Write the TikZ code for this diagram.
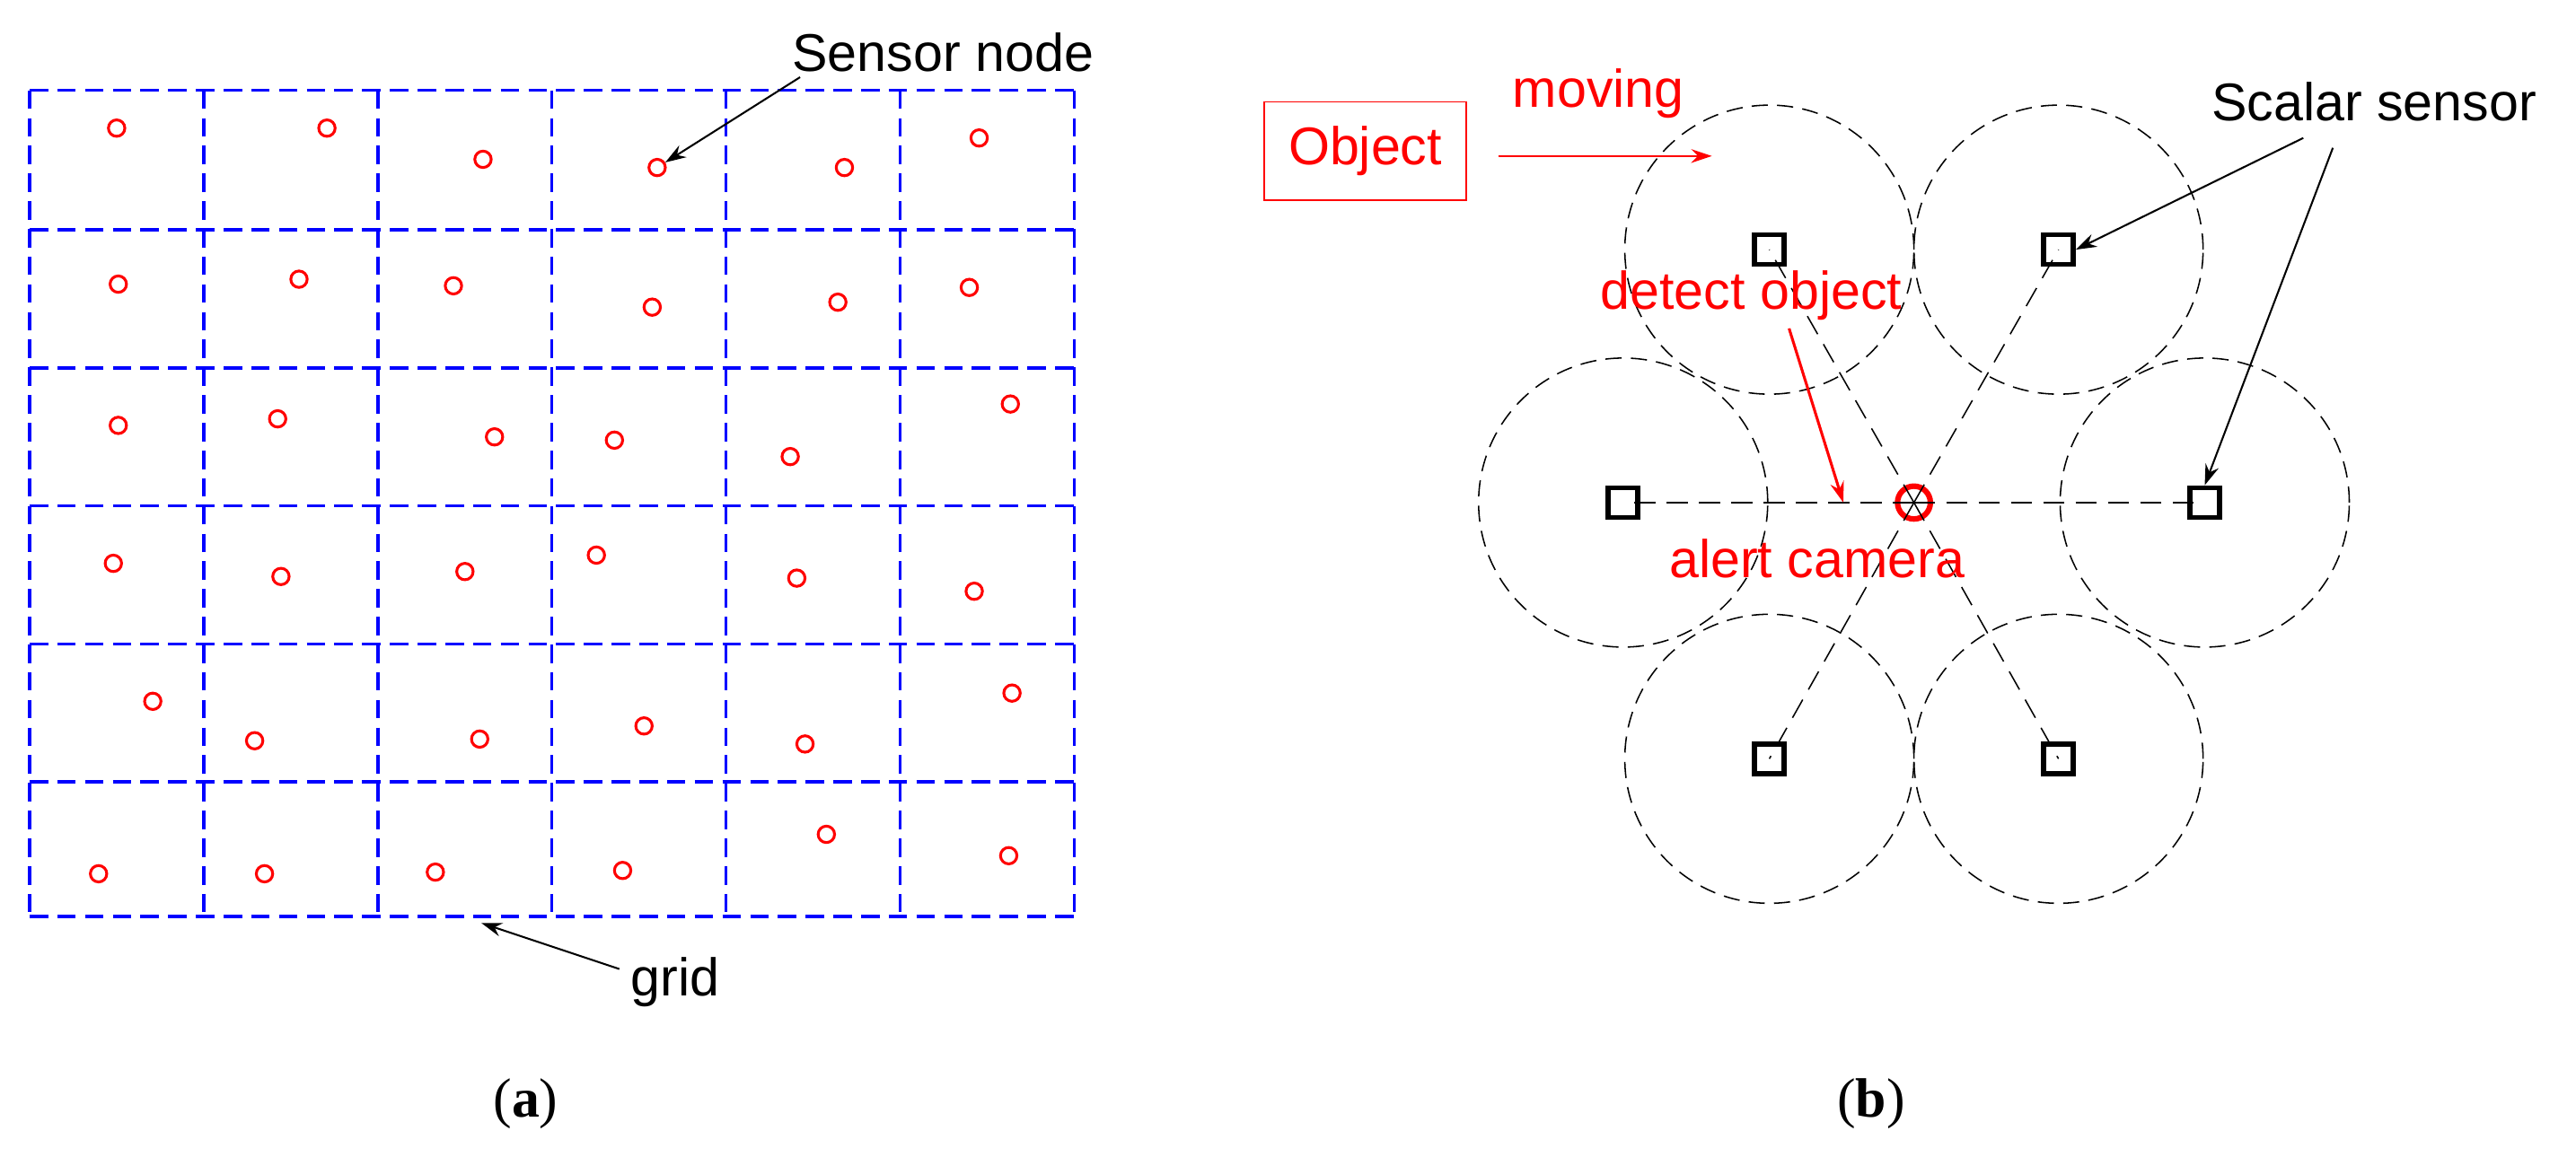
\documentclass[tikz,border=0pt]{standalone}
\usepackage{fontspec}
\usetikzlibrary{arrows.meta}
\setmainfont{Liberation Sans}
\newfontfamily\capfont{Liberation Serif}
\begin{document}
\begin{tikzpicture}[x=0.25mm,y=-0.25mm,
  lab/.style={font=\fontsize{23}{26}\selectfont, inner sep=0pt},
  sn/.style={circle,draw=red,line width=1.2pt,minimum size=10*0.25mm,inner sep=0pt},
  sq/.style={rectangle,draw=black,line width=2.2pt,minimum size=18*0.25mm,inner sep=0pt},
  rng/.style={circle,draw=black,dash pattern=on 7pt off 4pt,line width=0.6pt,minimum size=176*0.25mm,inner sep=0pt},
  link/.style={draw=black,dash pattern=on 9pt off 5pt,line width=0.6pt},
  gridline/.style={blue,line width=1.3pt,dash pattern=on 8pt off 4pt},
  arr/.style={-{Stealth[length=9pt,width=6pt,inset=3pt]},line width=0.8pt}]
\useasboundingbox (0,0) rectangle (1568,704);
% grid
\foreach \x in {18,124,230,336,442,548,654} \draw[gridline] (\x,55) -- (\x,558);
\foreach \y in {55,140,224,308,392,476,558} \draw[gridline] (18,\y) -- (654,\y);
\foreach \i/\p in {1/{(71,78)},2/{(199,78)},3/{(294,97)},4/{(400,102)},5/{(514,102)},6/{(596,84)},
 7/{(72,173)},8/{(182,170)},9/{(276,174)},10/{(397,187)},11/{(510,184)},12/{(590,175)},
 13/{(72,259)},14/{(169,255)},15/{(301,266)},16/{(374,268)},17/{(481,278)},18/{(615,246)},
 19/{(69,343)},20/{(171,351)},21/{(283,348)},22/{(363,338)},23/{(485,352)},24/{(593,360)},
 25/{(93,427)},26/{(155,451)},27/{(292,450)},28/{(392,442)},29/{(490,453)},30/{(616,422)},
 31/{(60,532)},32/{(161,532)},33/{(265,531)},34/{(379,530)},35/{(503,508)},36/{(614,521)}}
  \node[sn] (s\i) at \p {};
\node[lab] (sensorlab) at (574,32) {Sensor node};
\coordinate (sa) at (487,47);
\draw[arr] (sa) -- (s4);
\node[lab] (gridlab) at (411,598) {grid};
\coordinate (ga) at (377,590);
\coordinate (gb) at (293,562);
\draw[arr] (ga) -- (gb);
\node[font=\capfont\fontsize{24}{28}\selectfont] (capa) at (320,672) {(\textbf{a})};
\node[font=\capfont\fontsize{24}{28}\selectfont] (capb) at (1139,672) {(\textbf{b})};
% part b
\node[circle,draw=red,line width=2.4pt,minimum size=20*0.25mm,inner sep=0pt] (cam) at (1165,306) {};
\foreach \n/\p in {tl/{(1077,152)},tr/{(1253,152)},l/{(988,306)},r/{(1342,306)},bl/{(1077,462)},br/{(1253,462)}}{
  \node[rng] (c\n) at \p {};
  \node[sq] (q\n) at \p {};
  \draw[link] (cam.center) -- (q\n.center);
}
\node[draw=red,line width=0.6pt,minimum width=123*0.25mm,minimum height=60*0.25mm,text=red,font=\fontsize{23}{26}\selectfont] (obj) at (831,92) {Object};
\coordinate (m1) at (912,95);
\coordinate (m2) at (1042,95);
\draw[arr,red] (m1) -- (m2);
\node[lab,text=red] (moving) at (973,57) {moving};
\node[lab,text=red] (detect) at (1066,180) {detect object};
\coordinate (d1) at (1089,200);
\coordinate (d2) at (1122,306);
\draw[arr,red,line width=1.2pt] (d1) -- (d2);
\node[lab,text=red] (alert) at (1106,340) {alert camera};
\node[lab] (scalar) at (1445,62) {Scalar sensor};
\coordinate (a1) at (1402,84);
\coordinate (a2) at (1420,90);
\draw[arr] (a1) -- (qtr.east);
\draw[arr] (a2) -- (qr.north);
\end{tikzpicture}
\end{document}
